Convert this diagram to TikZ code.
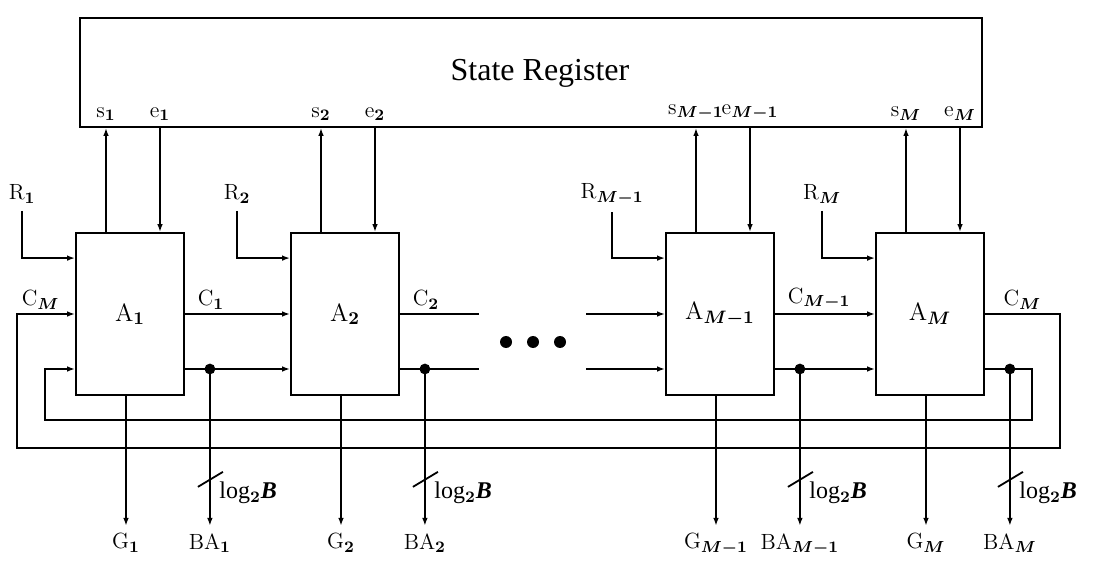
\documentclass[tikz,border=0pt]{standalone}
\usepackage{fontspec}
\usepackage{bm}
\usepackage{tikz}
\usetikzlibrary{arrows.meta,calc}
\newfontfamily\regfont{Liberation Serif}

\begin{document}
\begin{tikzpicture}[x=0.5pt,y=-0.5pt, line width=0.9pt,
    >={Latex[length=4pt,width=2.8pt]},
    every node/.style={font=\fontsize{11}{13}\selectfont},
    blk/.style={draw, minimum width=54pt, minimum height=81pt, inner sep=0pt,
                font=\fontsize{12.5}{15}\selectfont},
    clbl/.style={pos=0, anchor=south west, xshift=4pt, inner sep=2pt},
    loglbl/.style={right, font={\regfont\fontsize{12}{14}\selectfont}}]

  % -- the state register across the top
  \node[draw, minimum width=451pt, minimum height=54.5pt, inner sep=0pt] (reg) at (531,72.5) {};
  \node[font={\regfont\fontsize{16}{19}\selectfont}] (title) at (540,73) {State Register};

  % -- one arbiter cell per channel, with its ports
  \foreach \n/\cx/\sub in {a1/130/\bm{1}, a2/345/\bm{2}, am1/720/{\bm{M-1}}, am/930/\bm{M}}{
    \node[blk] (\n) at (\cx,314) {A$_{\sub}$};
    \coordinate (\n-s) at ([xshift=-12pt]\n.north);
    \coordinate (\n-e) at ([xshift=15pt]\n.north);
    \coordinate (\n-r) at ([yshift=-13pt]\n.north west);
    \coordinate (\n-bi) at ([yshift=-27.5pt]\n.west);
    \coordinate (\n-bo) at ([yshift=-27.5pt]\n.east);
    \coordinate (\n-j) at ([xshift=12.5pt]\n-bo);
    \coordinate (\n-go) at ([xshift=-2pt]\n.south);
    % status up, enable down
    \draw[->] (\n-s) -- (\n-s |- reg.south) node[above] {s$_{\sub}$};
    \draw[->] (\n-e |- reg.south) node[above] {e$_{\sub}$} -- (\n-e);
    % request in
    \node (\n-rl) at ([xshift=-26.5pt,yshift=19pt]\n.north west) {R$_{\sub}$};
    \draw[->] (\n-rl.south) |- (\n-r);
    % grant and bus address out
    \node[anchor=north] (\n-g) at ([yshift=-65pt]\n-go) {G$_{\sub}$};
    \draw[->] (\n-go) -- (\n-g.north);
    \node[anchor=north] (\n-ba) at (\n-j |- \n-g.north) {BA$_{\sub}$};
    \draw[->] (\n-j) -- (\n-ba.north);
    \fill (\n-j) circle (2.7pt);
    % bus width mark
    \coordinate (\n-w) at ($(\n-j |- \n.south)+(0,83)$);
    \draw ($(\n-w)+(-12,8)$) -- ($(\n-w)+(13,-7)$);
    \node[loglbl] (\n-lg) at ($(\n-w)+(2,14)$) {log$_{\bm{2}}$\textbf{\textit{B}}};
  }

  % -- chain between neighbours
  \draw[->] (a1.east) -- node[clbl] {C$_{\bm{1}}$} (a2.west);
  \draw[->] (a1-bo) -- (a2-bi);
  \coordinate (c2-end) at ($(a2.east)+(79,0)$);
  \draw (a2.east) -- node[clbl] {C$_{\bm{2}}$} (c2-end);
  \draw (a2-bo) -- (a2-bo -| c2-end);
  \foreach \x in {506,533,560}
    \fill (\x,342) circle (3pt);
  \coordinate (cm1-in) at ($(am1.west)+(-79,0)$);
  \draw[->] (cm1-in) -- (am1.west);
  \draw[->] (am1-bi -| cm1-in) -- (am1-bi);
  \draw[->] (am1.east) -- node[clbl] {C$_{\bm{M-1}}$} (am.west);
  \draw[->] (am1-bo) -- (am-bi);

  % -- wrap-around from the last cell back to the first
  \coordinate (outR) at (1060,448);
  \coordinate (outL) at (17,448);
  \coordinate (inR) at (1032,420);
  \coordinate (inL) at (45,420);
  \draw[->] (am.east) -- node[above, inner sep=2pt] {C$_{\bm{M}}$} (am.east -| outR) -- (outR)
    -- (outL) |- (a1.west);
  \node[above right, inner sep=2pt] (cm-in) at (outL |- a1.west) {C$_{\bm{M}}$};
  \draw[->] (am-bo) -| (inR) -- (inL) |- (a1-bi);

  \path (0,0) rectangle (1096,571);
\end{tikzpicture}
\end{document}
